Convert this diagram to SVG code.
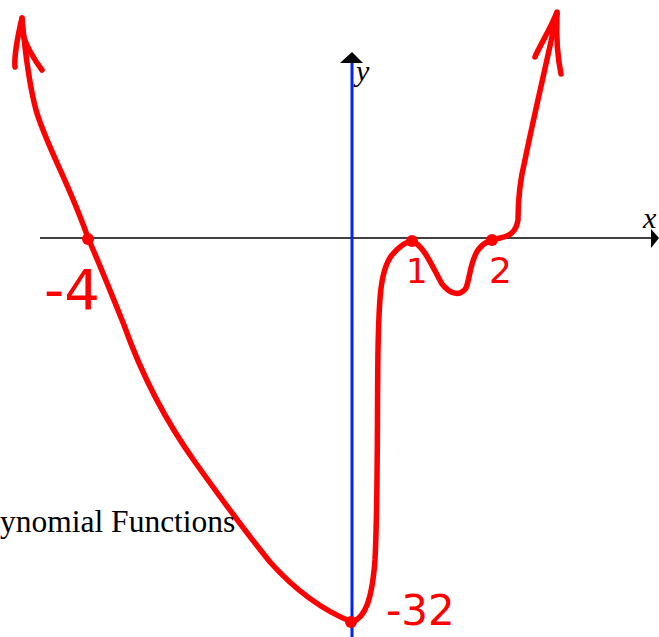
<svg xmlns="http://www.w3.org/2000/svg" width="659" height="637" viewBox="0 0 659 637">
<style>
.curve{fill:none;stroke:#ff0000;stroke-width:5.5;stroke-linecap:round;stroke-linejoin:round}
.lbl{fill:#ff0000;font-family:"DejaVu Sans",sans-serif}
.ax{font-family:"Liberation Serif",serif;font-style:italic;font-size:30px;fill:#000}
</style>
<rect width="659" height="637" fill="#fff"/>
<g id="axes">
<line x1="40" y1="238" x2="652" y2="238" stroke="#000" stroke-width="1.5"/>
<polygon points="651,229 659,238 651,248" fill="#000"/>
<line x1="352" y1="60" x2="352" y2="637" stroke="#0022ff" stroke-width="3"/>
<polygon points="340,63 352,52 363,63" fill="#000"/>
<text class="ax" x="356" y="81">y</text>
<text class="ax" x="643" y="228">x</text>
</g>
<g id="curve">
<path class="curve" d="M22,18 C24,40 28,80 36,110 C46,145 70,185 88,238 C100,265 112,295 124,325 C140,370 165,420 195,462 C215,490 240,525 270,562 C295,590 322,610 352,622 C365,618 372,600 375,560 C378,500 377,420 378,350 C379,300 380,270 392,255 C400,246 408,240 414,242 C425,248 433,268 442,284 C450,294 460,297 466,288 C470,278 470,262 478,250 C484,242 490,240 500,238 C510,236 516,232 518,220 C518,200 520,180 525,160 C533,120 545,70 557,14"/>
<path class="curve" d="M22,18 C18,35 14,55 15,67"/>
<path class="curve" d="M23,35 C28,50 36,62 42,70"/>
<path class="curve" d="M557,12 C550,30 540,45 535,57"/>
<path class="curve" d="M557,14 C556,40 558,60 561,74"/>
</g>
<g id="points" fill="#ff0000">
<circle cx="88" cy="239" r="6"/>
<circle cx="412" cy="241" r="6"/>
<circle cx="492" cy="240" r="6"/>
<circle cx="351" cy="622" r="6"/>
</g>
<g id="labels">
<text class="lbl" x="386" y="625" font-size="42">-32</text>
<text class="lbl" x="44" y="309" font-size="56">-4</text>
<text class="lbl" x="406" y="283" font-size="34">1</text>
<text class="lbl" x="489" y="283" font-size="36">2</text>
</g>
<text x="0" y="532" font-family="Liberation Serif,serif" font-size="31.5" fill="#000">ynomial Functions</text>
</svg>
